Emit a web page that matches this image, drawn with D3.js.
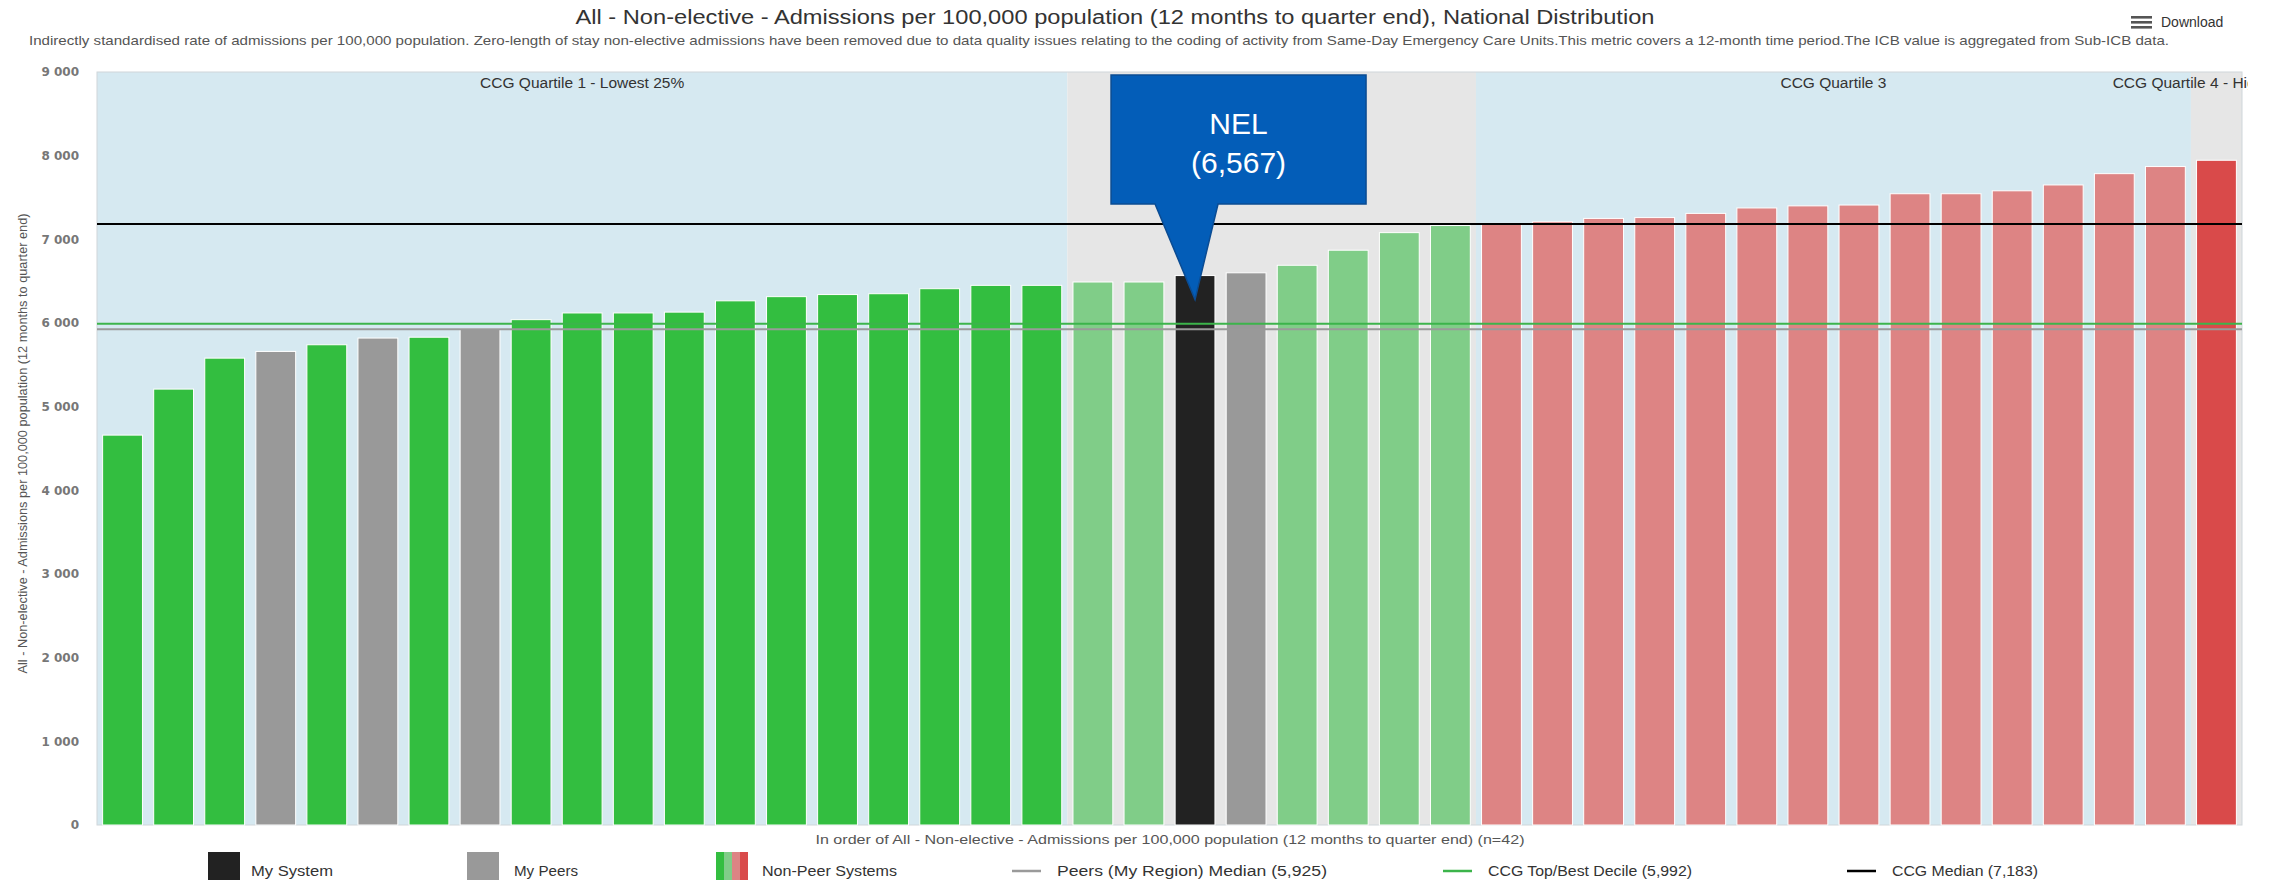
<!DOCTYPE html>
<html>
<head>
<meta charset="utf-8">
<script src="https://cdn.jsdelivr.net/npm/d3@7"></script>
<style>
  html, body { margin: 0; padding: 0; background: #ffffff; }
  svg { display: block; font-family: "Liberation Sans", Arial, sans-serif; }
</style>
</head>
<body>
<svg id="chart" width="2277" height="880"></svg>
<script>
// Systems ranked by indirectly standardised non-elective admission rate
const ranks = d3.range(1, 43);
const values = [4660, 5210, 5580, 5660, 5740, 5820, 5830, 5930, 6040, 6120,
                6120, 6130, 6265, 6315, 6340, 6350, 6410, 6450, 6450, 6490,
                6490, 6567, 6600, 6690, 6870, 7080, 7165, 7190, 7210, 7250,
                7260, 7310, 7375, 7400, 7410, 7545, 7545, 7580, 7650, 7785,
                7870, 7945];
// "self" = my system, "peer" = my peers, "other" = non-peer systems
const groups = ["other","other","other","peer","other","peer","other","peer","other","other",
                "other","other","other","other","other","other","other","other","other","other",
                "other","self","peer","other","other","other","other","other","other","other",
                "other","other","other","other","other","other","other","other","other","other",
                "other","other"];

// National quartile bands (rank index ranges)
const quartileLabels = ["CCG Quartile 1 - Lowest 25%", "CCG Quartile 2", "CCG Quartile 3", "CCG Quartile 4 - Highest 25%"];
const quartileStart = [0, 19, 27, 41];
const quartileEnd = [19, 27, 41, 42];

// Reference lines
const refLabels = ["Peers (My Region) Median (5,925)", "CCG Top/Best Decile (5,992)", "CCG Median (7,183)"];
const refValues = [5925, 5992, 7183];

const yTicks = [0, 1000, 2000, 3000, 4000, 5000, 6000, 7000, 8000, 9000];

const selfName = "NEL";
const selfValue = 6567;

const titleText = "All - Non-elective - Admissions per 100,000 population (12 months to quarter end), National Distribution";
const subtitleText = "Indirectly standardised rate of admissions per 100,000 population. Zero-length of stay non-elective admissions have been removed due to data quality issues relating to the coding of activity from Same-Day Emergency Care Units.This metric covers a 12-month time period.The ICB value is aggregated from Sub-ICB data.";
const yTitleText = "All - Non-elective - Admissions per 100,000 population (12 months to quarter end)";
const xTitleText = "In order of All - Non-elective - Admissions per 100,000 population (12 months to quarter end) (n=42)";
const legendLabels = ["My System", "My Peers", "Non-Peer Systems"];

// ---------- styling ----------
const quartileFill = ["#d6e9f1", "#e6e6e6", "#d6e9f1", "#e6e6e6"];
const quartileBarColor = ["#33be40", "#80cd88", "#dd8484", "#d94a4a"];
const groupColor = { self: "#222222", peer: "#999999" };
const refColors = ["#9a9a9a", "#3cb44b", "#000000"];

const svg = d3.select("#chart");
const plot = { left: 97, right: 2242, top: 72, bottom: 825 };

const x = d3.scaleBand()
  .domain(d3.range(values.length))
  .range([plot.left, plot.right])
  .paddingInner(0.22)
  .paddingOuter(0.11);
const y = d3.scaleLinear().domain([0, 9000]).range([plot.bottom, plot.top]);
const edge = i => plot.left + i * x.step();

const quartileOf = i => quartileStart.findIndex((s, q) => i >= s && i < quartileEnd[q]);

// ---------- clip for the plot-area labels ----------
svg.append("defs").append("clipPath").attr("id", "plotClip")
  .append("rect").attr("x", 0).attr("y", 0).attr("width", plot.right + 6).attr("height", 880);

// ---------- quartile background bands ----------
svg.append("g").selectAll("rect")
  .data(quartileLabels)
  .join("rect")
  .attr("x", (d, q) => edge(quartileStart[q]))
  .attr("y", plot.top)
  .attr("width", (d, q) => edge(quartileEnd[q]) - edge(quartileStart[q]))
  .attr("height", plot.bottom - plot.top)
  .attr("fill", (d, q) => quartileFill[q]);

svg.append("rect")
  .attr("x", plot.left).attr("y", plot.top)
  .attr("width", plot.right - plot.left).attr("height", plot.bottom - plot.top)
  .attr("fill", "none").attr("stroke", "#cfd6da").attr("stroke-width", 1);

svg.append("g").attr("clip-path", "url(#plotClip)").selectAll("text")
  .data(quartileLabels)
  .join("text")
  .attr("x", (d, q) => (edge(quartileStart[q]) + edge(quartileEnd[q])) / 2)
  .attr("y", plot.top + 16)
  .attr("text-anchor", "middle")
  .attr("font-size", 15.5)
  .attr("fill", "#333")
  .text(d => d);

// ---------- bars ----------
svg.append("g").selectAll("rect")
  .data(values)
  .join("rect")
  .attr("x", (d, i) => x(i))
  .attr("y", d => y(d))
  .attr("width", x.bandwidth())
  .attr("height", d => y(0) - y(d))
  .attr("fill", (d, i) => groups[i] === "other" ? quartileBarColor[quartileOf(i)] : groupColor[groups[i]])
  .attr("stroke", "#ffffff")
  .attr("stroke-width", 1);

// ---------- reference lines ----------
svg.append("g").selectAll("line")
  .data(refValues)
  .join("line")
  .attr("x1", plot.left).attr("x2", plot.right)
  .attr("y1", d => y(d)).attr("y2", d => y(d))
  .attr("stroke", (d, i) => refColors[i])
  .attr("stroke-width", 2);

// ---------- y axis ----------
const fmt = d3.formatLocale({ decimal: ".", thousands: " ", grouping: [3], currency: ["", ""] }).format(",");
const yAxis = svg.append("g")
  .attr("transform", `translate(${plot.left - 18},0)`)
  .call(d3.axisLeft(y).tickValues(yTicks).tickFormat(fmt).tickSize(0).tickPadding(0));
yAxis.select(".domain").remove();
yAxis.selectAll("text")
  .attr("font-family", "'DejaVu Sans', Verdana, sans-serif")
  .attr("font-size", 12)
  .attr("font-weight", "bold")
  .attr("fill", "#777");

svg.append("text")
  .attr("transform", `translate(24,${(plot.top + plot.bottom) / 2 - 5}) rotate(-90)`)
  .attr("text-anchor", "middle")
  .attr("dominant-baseline", "middle")
  .attr("font-size", 13)
  .attr("fill", "#555")
  .attr("textLength", 460)
  .attr("lengthAdjust", "spacingAndGlyphs")
  .text(yTitleText);

// ---------- titles ----------
svg.append("text")
  .attr("x", 1115).attr("y", 24)
  .attr("text-anchor", "middle")
  .attr("font-size", 20)
  .attr("fill", "#333")
  .attr("textLength", 1079)
  .attr("lengthAdjust", "spacingAndGlyphs")
  .text(titleText);

svg.append("text")
  .attr("x", 29).attr("y", 45)
  .attr("font-size", 13)
  .attr("fill", "#555")
  .attr("textLength", 2140)
  .attr("lengthAdjust", "spacingAndGlyphs")
  .text(subtitleText);

// download menu
const dl = svg.append("g").attr("transform", "translate(2131,16)");
[0, 5, 10].forEach(o => dl.append("rect").attr("x", 0).attr("y", o).attr("width", 21).attr("height", 2.6).attr("fill", "#555"));
dl.append("text").attr("x", 30).attr("y", 11).attr("font-size", 14).attr("fill", "#333").text("Download");

// x axis title
svg.append("text")
  .attr("x", 1170).attr("y", 844)
  .attr("text-anchor", "middle")
  .attr("font-size", 13.5)
  .attr("fill", "#555")
  .attr("textLength", 709)
  .attr("lengthAdjust", "spacingAndGlyphs")
  .text(xTitleText);

// ---------- legend ----------
const lg = svg.append("g");
const swatchY = 852, textY = 876;
lg.append("rect").attr("x", 208).attr("y", swatchY).attr("width", 32).attr("height", 30).attr("fill", groupColor.self);
lg.append("rect").attr("x", 467).attr("y", swatchY).attr("width", 32).attr("height", 30).attr("fill", groupColor.peer);
quartileBarColor.forEach((c, k) => lg.append("rect")
  .attr("x", 716 + k * 8).attr("y", swatchY).attr("width", 8).attr("height", 30).attr("fill", c));
const legendTextX = [251, 514, 762];
const legendTextW = [82, 64, 135];
legendLabels.forEach((t, k) => lg.append("text")
  .attr("x", legendTextX[k]).attr("y", textY)
  .attr("font-size", 14).attr("fill", "#333")
  .attr("textLength", legendTextW[k]).attr("lengthAdjust", "spacingAndGlyphs")
  .text(t));

const refLegendX = [1012, 1443, 1847];
const refLegendW = [270, 204, 146];
refLabels.forEach((t, k) => {
  lg.append("line")
    .attr("x1", refLegendX[k]).attr("x2", refLegendX[k] + 29)
    .attr("y1", textY - 5).attr("y2", textY - 5)
    .attr("stroke", refColors[k]).attr("stroke-width", 2.5);
  lg.append("text")
    .attr("x", refLegendX[k] + 45).attr("y", textY)
    .attr("font-size", 14).attr("fill", "#333")
    .attr("textLength", refLegendW[k]).attr("lengthAdjust", "spacingAndGlyphs")
    .text(t);
});

// ---------- callout for my system ----------
const selfIndex = groups.indexOf("self");
const tipX = x(selfIndex) + x.bandwidth() / 2;
const tipY = y(selfValue) + 24;
const boxTop = plot.top + 3, boxBottom = plot.top + 132;
const boxLeft = tipX - 84, boxRight = tipX + 171;
const callout = d3.path();
callout.moveTo(boxLeft, boxTop);
callout.lineTo(boxRight, boxTop);
callout.lineTo(boxRight, boxBottom);
callout.lineTo(tipX + 23, boxBottom);
callout.lineTo(tipX, tipY);
callout.lineTo(tipX - 40, boxBottom);
callout.lineTo(boxLeft, boxBottom);
callout.closePath();
svg.append("path")
  .attr("d", callout.toString())
  .attr("fill", "#035db8")
  .attr("stroke", "#0b4c93")
  .attr("stroke-width", 1.5);
const cx = (boxLeft + boxRight) / 2;
svg.append("text").attr("x", cx).attr("y", 134).attr("text-anchor", "middle")
  .attr("font-size", 30).attr("fill", "#ffffff").text(selfName);
svg.append("text").attr("x", cx).attr("y", 173).attr("text-anchor", "middle")
  .attr("font-size", 30).attr("fill", "#ffffff").text(`(${d3.format(",")(selfValue)})`);
</script>
</body>
</html>
